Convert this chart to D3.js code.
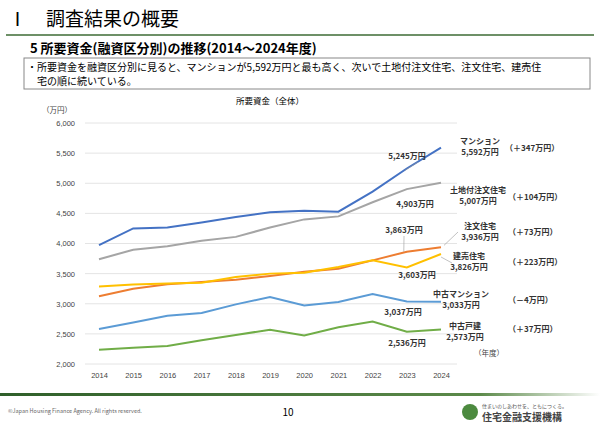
<!DOCTYPE html><html><head><meta charset="utf-8"><script src="https://cdn.jsdelivr.net/npm/d3@7"></script>
<style>body{margin:0;background:#fff;font-family:"Noto Sans CJK JP",sans-serif}</style></head><body><svg id="c" width="600" height="432"></svg>
<script>
const years=[2014,2015,2016,2017,2018,2019,2020,2021,2022,2023,2024];
const yTicks=[2000,2500,3000,3500,4000,4500,5000,5500,6000];
const mansion=[3972,4250,4265,4350,4440,4520,4545,4528,4860,5245,5592];
const tochi=[3740,3895,3955,4045,4110,4265,4400,4450,4685,4903,5007];
const chumon=[3125,3250,3325,3360,3400,3460,3530,3580,3720,3863,3936];
const tateuri=[3285,3320,3335,3350,3445,3500,3515,3610,3720,3603,3826];
const chukoM=[2580,2690,2800,2845,2990,3110,2970,3030,3160,3037,3033];
const chukoK=[2235,2270,2300,2395,2480,2570,2475,2610,2705,2536,2573];
const series=[
 {name:"マンション",v:mansion,c:"#4472C4"},
 {name:"土地付注文住宅",v:tochi,c:"#A5A5A5"},
 {name:"注文住宅",v:chumon,c:"#ED7D31"},
 {name:"建売住宅",v:tateuri,c:"#FFC000"},
 {name:"中古マンション",v:chukoM,c:"#5B9BD5"},
 {name:"中古戸建",v:chukoK,c:"#70AD47"}];
const endLabels=[
 {n:"マンション",v:"5,592万円",d:"（＋347万円）",x:480,y:144,dx:505,dy:151},
 {n:"土地付注文住宅",v:"5,007万円",d:"（＋104万円）",x:478,y:193,dx:508,dy:200},
 {n:"注文住宅",v:"3,936万円",d:"（＋73万円）",x:480,y:229,dx:508,dy:235},
 {n:"建売住宅",v:"3,826万円",d:"（＋223万円）",x:469,y:259,dx:508,dy:265},
 {n:"中古マンション",v:"3,033万円",d:"（－4万円）",x:461,y:297,dx:508,dy:303},
 {n:"中古戸建",v:"2,573万円",d:"（＋37万円）",x:465,y:329,dx:508,dy:332}];
const svg=d3.select("#c");
svg.append("text").attr("x",8).attr("y",26).attr("font-size",19).text("Ⅰ　調査結果の概要");
svg.append("line").attr("x1",6).attr("x2",594).attr("y1",35).attr("y2",35).attr("stroke","#3d6b35").attr("stroke-width",1.5);
svg.append("text").attr("x",30).attr("y",53).attr("font-size",13).attr("font-weight","bold").text("5  所要資金(融資区分別)の推移(2014～2024年度)");
svg.append("rect").attr("x",24).attr("y",58).attr("width",566).attr("height",31).attr("fill","none").attr("stroke","#888");
svg.append("text").attr("x",27).attr("y",71).attr("font-size",10).text("・所要資金を融資区分別に見ると、マンションが5,592万円と最も高く、次いで土地付注文住宅、注文住宅、建売住");
svg.append("text").attr("x",37).attr("y",85).attr("font-size",10).text("宅の順に続いている。");
svg.append("text").attr("x",270).attr("y",104).attr("font-size",8.5).attr("text-anchor","middle").text("所要資金（全体）");
const x=d3.scalePoint().domain(years).range([99,441]);
const y=d3.scaleLinear().domain([2000,6000]).range([364,123]);
const g=svg.append("g");
yTicks.forEach(t=>g.append("line").attr("x1",85).attr("x2",457).attr("y1",y(t)).attr("y2",y(t)).attr("stroke","#e4e4e4"));
const ya=svg.append("g").attr("transform","translate(78,0)").call(d3.axisLeft(y).tickValues(yTicks).tickFormat(d3.format(",")).tickSize(0));
ya.select(".domain").remove();ya.selectAll("text").attr("font-size",7.5).attr("fill","#444");
const xa=svg.append("g").attr("transform","translate(0,370)").call(d3.axisBottom(x).tickSize(0));
xa.select(".domain").remove();xa.selectAll("text").attr("font-size",7.5).attr("fill","#444");
svg.append("text").attr("x",42).attr("y",113).attr("font-size",7.5).attr("fill","#444").text("（万円）");
const line=d3.line().x((d,i)=>x(years[i])).y(d=>y(d));
series.forEach(s=>svg.append("path").attr("d",line(s.v)).attr("fill","none").attr("stroke",s.c).attr("stroke-width",2));
const lt=(t,xx,yy,a)=>svg.append("text").attr("x",xx).attr("y",yy).attr("font-size",8).attr("font-weight","bold").attr("fill","#333").attr("text-anchor",a||"middle").text(t);
endLabels.forEach(e=>{lt(e.n,e.x,e.y);lt(e.v,e.x,e.y+11);lt(e.d,e.dx,e.dy,"start");});
lt("5,245万円",407,159);lt("4,903万円",415,207);lt("3,863万円",404,233);lt("3,603万円",417,278);lt("3,037万円",403,315);lt("2,536万円",407,346);
svg.append("text").attr("x",489).attr("y",356).attr("font-size",7.5).attr("fill","#444").attr("text-anchor","middle").text("（年度）");
const ll=(x1,y1,x2,y2)=>svg.append("line").attr("x1",x1).attr("y1",y1).attr("x2",x2).attr("y2",y2).attr("stroke","#999").attr("stroke-width",0.6);
ll(418,162,x(2023)-2,y(5245)+2);ll(404,236,x(2023)-3,y(3863));
ll(444,y(3936)-2,458,232);ll(441,y(3826)+3,452,263);
const grd=svg.append("defs").append("linearGradient").attr("id","gr");grd.append("stop").attr("offset","0").attr("stop-color","#2f5f2a");grd.append("stop").attr("offset","0.8").attr("stop-color","#5c8a4a");grd.append("stop").attr("offset","1").attr("stop-color","#fff");
svg.append("rect").attr("x",0).attr("y",393).attr("width",600).attr("height",3).attr("fill","url(#gr)");
svg.append("text").attr("x",8).attr("y",413).attr("font-size",5.5).attr("fill","#666").text("©Japan Housing Finance Agency. All rights reserved.");
svg.append("text").attr("x",288).attr("y",416).attr("font-size",10).attr("text-anchor","middle").text("10");
svg.append("circle").attr("cx",470).attr("cy",412).attr("r",8).attr("fill","#4c8a3f");
svg.append("text").attr("x",482).attr("y",408).attr("font-size",5).attr("fill","#555").text("住まいのしあわせを、ともにつくる。");
svg.append("text").attr("x",482).attr("y",421).attr("font-size",10).attr("font-weight","bold").attr("fill","#444").text("住宅金融支援機構");
</script></body></html>
